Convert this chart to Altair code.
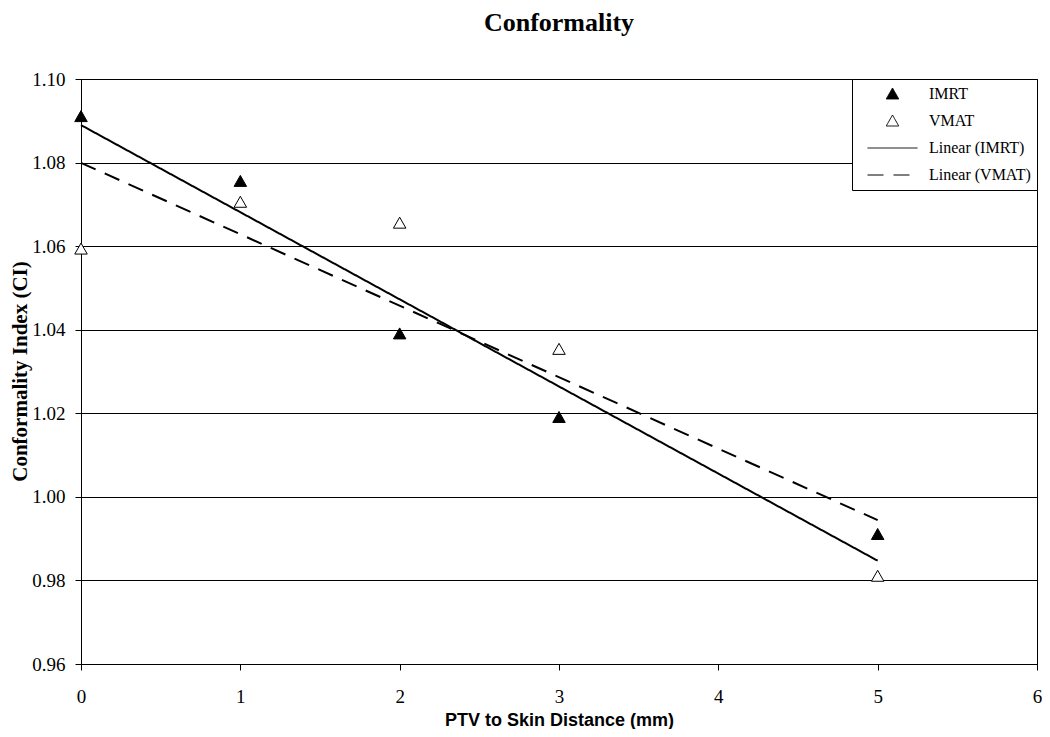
import altair as alt
import pandas as pd

# ---- data ----
distance = [0, 1, 2, 3, 5]
imrt = [1.091, 1.0755, 1.039, 1.019, 0.991]
vmat = [1.0593, 1.0705, 1.0655, 1.0353, 0.981]
series_names = ["IMRT", "VMAT"]
legend_labels = ["IMRT", "VMAT", "Linear (IMRT)", "Linear (VMAT)"]
x_ticks = [0, 1, 2, 3, 4, 5, 6]
y_ticks = [0.96, 0.98, 1.00, 1.02, 1.04, 1.06, 1.08, 1.10]

df = pd.DataFrame({
    "distance": distance * 2,
    "ci": imrt + vmat,
    "label": [series_names[0]] * len(imrt) + [series_names[1]] * len(vmat),
})

SERIF = "Liberation Serif"
SANS = "Liberation Sans"

tri = "M0,-0.24L0.25,0.2L-0.25,0.2Z"
seg = "M-1,0H1"

leg = alt.Legend(
    title=None, orient="top-right", offset=0,
    padding=6, strokeColor="black", fillColor="white",
    labelFont=SERIF, labelFontSize=16, labelColor="black",
    symbolOffset=9, labelOffset=11, rowPadding=9, clipHeight=18,
    symbolStrokeColor="black", symbolSize=2500, symbolStrokeWidth=2,
)

shape_scale = alt.Scale(domain=legend_labels, range=[tri, tri, seg, seg])
fill_scale = alt.Scale(domain=legend_labels, range=["black", "white", "white", "white"])
stroke_scale = alt.Scale(domain=legend_labels, range=["black", "black", "black", "black"])
dash_scale = alt.Scale(domain=legend_labels, range=[[1, 0], [1, 0], [1, 0], [16, 10]])
sw_scale = alt.Scale(domain=legend_labels, range=[1, 1, 2, 2])

PLOT_W = 956
PLOT_H = 585

x_enc = alt.X(
    "distance:Q",
    scale=alt.Scale(domain=[0, 6], nice=False, zero=False),
    axis=alt.Axis(values=x_ticks, format="d", grid=False, labelFlush=False,
                  title="PTV to Skin Distance (mm)",
                  titleFont=SANS, titleFontSize=18, titleFontWeight="bold",
                  labelPadding=17, titleX=PLOT_W / 2, titleY=56,
                  titleBaseline="middle", titleAlign="center"),
)
y_enc = alt.Y(
    "ci:Q",
    scale=alt.Scale(domain=[0.96, 1.10], nice=False, zero=False),
    axis=alt.Axis(values=y_ticks, format=".2f", grid=True, labelFlush=False,
                  title="Conformality Index (CI)",
                  titleFont=SERIF, titleFontSize=21, titleFontWeight="bold",
                  labelPadding=10, titleX=-61, titleY=292,
                  titleBaseline="middle", titleAlign="center"),
)

points = alt.Chart(df).mark_point(opacity=1, size=2500).encode(
    x=x_enc,
    y=y_enc,
    shape=alt.Shape("label:N", scale=shape_scale, legend=leg),
    fill=alt.Fill("label:N", scale=fill_scale, legend=leg),
    stroke=alt.Stroke("label:N", scale=stroke_scale, legend=leg),
    strokeWidth=alt.StrokeWidth("label:N", scale=sw_scale, legend=leg),
)

lines = alt.Chart(df).transform_regression(
    "distance", "ci", groupby=["label"]
).transform_calculate(
    label="'Linear (' + datum.label + ')'"
).mark_line(strokeWidth=2).encode(
    x="distance:Q",
    y="ci:Q",
    stroke=alt.Stroke("label:N", scale=stroke_scale, legend=leg),
    strokeDash=alt.StrokeDash("label:N", scale=dash_scale, legend=leg),
)

chart = alt.layer(lines, points).properties(
    width=PLOT_W,
    height=PLOT_H,
    title=alt.Title("Conformality", font=SERIF, fontSize=26, fontWeight="bold",
                    color="black", anchor="middle", frame="group", offset=34),
    autosize=alt.AutoSizeParams(type="none"),
    padding={"left": 73, "top": 71, "right": 5, "bottom": 65},
).configure_view(
    stroke="black", strokeWidth=1
).configure_axis(
    labelFont=SERIF, labelFontSize=19, labelColor="black",
    titleColor="black", tickColor="black", domainColor="black",
    gridColor="black", gridWidth=1, tickSize=6, domainWidth=1,
    gridOpacity=1,
)

chart.save("out.html", embed_options={"renderer": "svg", "actions": False})
